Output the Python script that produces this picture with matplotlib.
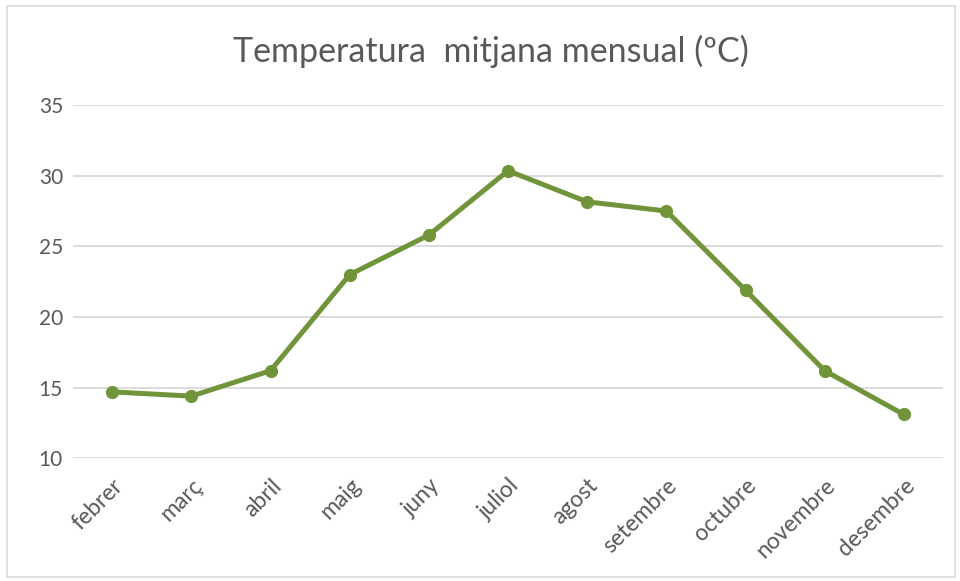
import matplotlib.pyplot as plt
from matplotlib.patches import Rectangle

months = ['febrer', 'març', 'abril', 'maig', 'juny', 'juliol', 'agost',
          'setembre', 'octubre', 'novembre', 'desembre']
temps = [14.7, 14.4, 16.2, 23.0, 25.8, 30.35, 28.15, 27.5, 21.9, 16.2, 13.1]
yticks = [10, 15, 20, 25, 30, 35]

plt.rcParams['font.family'] = ['Lato', 'DejaVu Sans']
grey = '#595959'

fig = plt.figure(figsize=(9.6, 5.81), dpi=100)
ax = fig.add_axes([0.0757, 0.2112, 0.907, 0.608])

# light frame round the whole chart
fig.patches.append(Rectangle((0.007, 0.007), 0.988, 0.983, transform=fig.transFigure,
                             fill=False, edgecolor='#d9d9d9', linewidth=1.2))

x = list(range(len(months)))
ax.plot(x, temps, color='#71943a', linewidth=3.6, marker='o', markersize=8.5,
        solid_capstyle='round', zorder=3)

ax.set_xlim(-0.5, len(months) - 0.5)
ax.set_ylim(10, 35)
ax.set_yticks(yticks)
ax.set_xticks(x)
ax.set_xticklabels(months, rotation=45, ha='right', rotation_mode='anchor')
ax.tick_params(axis='y', length=0, labelsize=15, colors=grey, pad=7)
ax.tick_params(axis='x', length=0, labelsize=16.5, colors=grey, pad=12)
ax.yaxis.grid(True, color='#d9d9d9', linewidth=1.3)
ax.set_axisbelow(True)
for s in ax.spines.values():
    s.set_visible(False)

fig.text(0.511, 0.912, 'Temperatura  mitjana mensual (ºC)', ha='center', va='center',
         fontsize=24.5, color=grey)

fig.savefig('out.png', dpi=100)
